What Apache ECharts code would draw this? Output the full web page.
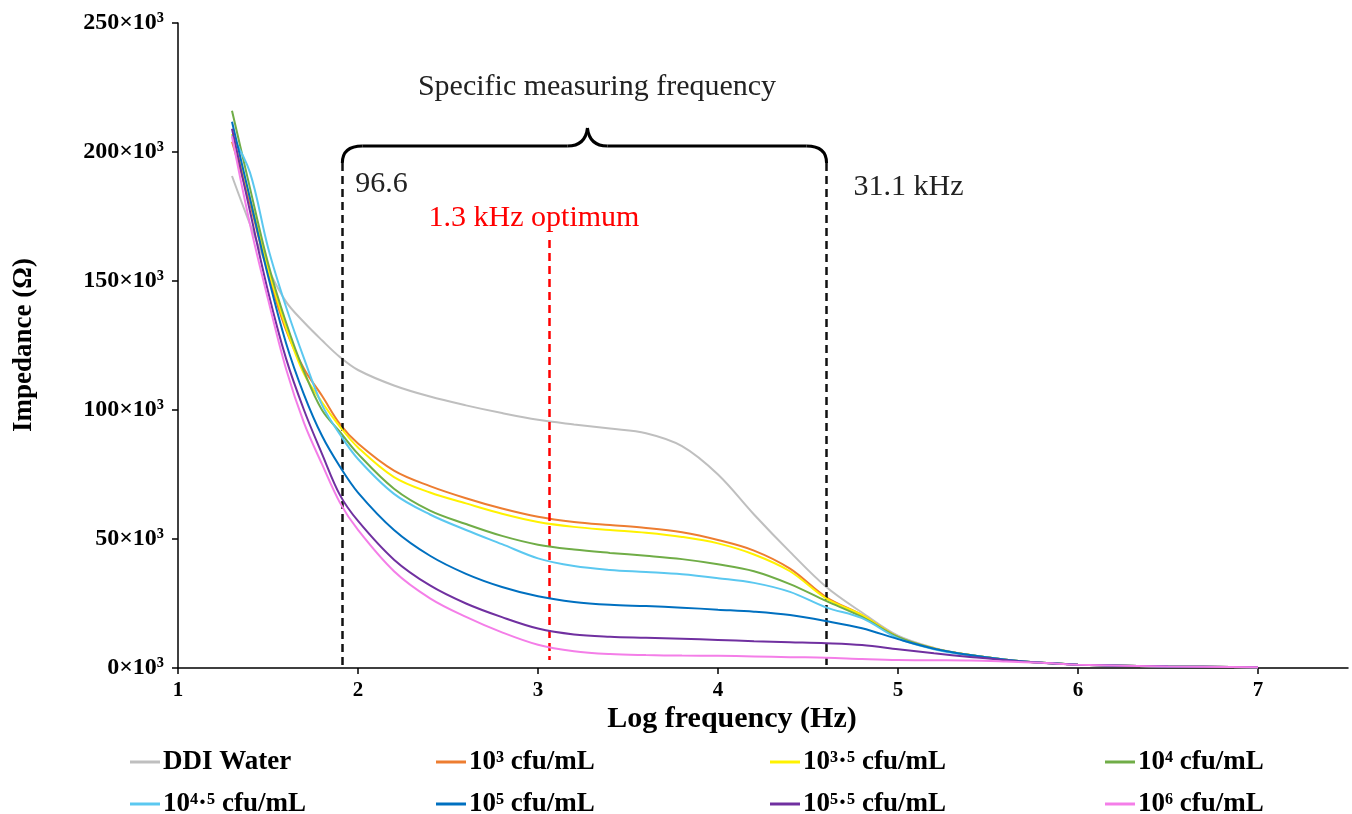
<!DOCTYPE html>
<html>
<head>
<meta charset="utf-8">
<script src="https://cdn.jsdelivr.net/npm/echarts@6/dist/echarts.min.js"></script>
<style>
  html, body { margin: 0; padding: 0; background: #fff; }
  #chart { width: 1352px; height: 814px; }
</style>
</head>
<body>
<div id="chart"></div>
<script>
// log10 frequency (Hz)
const logFreq = [1.3, 1.4, 1.5, 1.6, 1.7, 1.8, 1.9, 2.0, 2.2, 2.4, 2.6, 2.8, 3.0, 3.2, 3.4, 3.6, 3.8, 4.0, 4.2, 4.4, 4.6, 4.8, 5.0, 5.2, 5.4, 5.6, 5.8, 6.0, 6.5, 7.0];

// impedance, in 10^3 ohm
const ddiWater = [190.7, 172, 155, 142, 134, 127, 120.5, 115.5, 109.5, 105.2, 101.8, 98.8, 96.2, 94.4, 92.8, 91, 86, 75, 59.5, 45, 31.5, 21.5, 12.5, 7.8, 5, 3.2, 2, 1.3, 0.6, 0.3];
const c3 = [204, 180, 153, 131, 116, 105.5, 94.5, 87, 76.5, 70.5, 65.8, 61.8, 58.6, 56.6, 55.4, 54.3, 52.6, 49.6, 45.5, 38.5, 27.5, 20.5, 12, 7.6, 5, 3.2, 2, 1.3, 0.6, 0.3];
const c35 = [207, 182, 155, 132, 114, 103, 93.5, 85.5, 74, 68, 63.8, 59.8, 56.6, 54.7, 53.5, 52.4, 50.8, 48.3, 44, 37.5, 27, 20.5, 12, 7.6, 5, 3.2, 2, 1.3, 0.6, 0.3];
const c4 = [216, 186, 157, 134, 115, 100, 91.5, 83, 69.5, 61, 55.8, 51.2, 47.8, 45.9, 44.6, 43.5, 42.2, 40.2, 37.5, 32.5, 26, 19.8, 12, 7.5, 5, 3.2, 2, 1.3, 0.6, 0.3];
const c45 = [206.5, 192, 163, 140, 120, 102, 90.5, 81, 67.5, 59.5, 53.5, 48, 42.5, 39.5, 38, 37.2, 36.3, 34.8, 33, 29.5, 23.5, 19.3, 11.5, 7.3, 4.9, 3.2, 2, 1.3, 0.6, 0.3];
const c5 = [211.7, 182, 152, 126, 106, 90, 78, 68, 53.5, 43.5, 36.5, 31.4, 27.8, 25.6, 24.5, 24, 23.4, 22.6, 21.8, 20.5, 18.2, 15.4, 11.2, 7.5, 5, 3.2, 2, 1.3, 0.6, 0.3];
const c55 = [209, 177, 146, 120, 100, 83, 67, 57, 42, 32, 25, 19.7, 15.3, 13, 12.1, 11.7, 11.3, 10.9, 10.4, 10, 9.6, 8.9, 7.3, 5.7, 4.3, 3, 2, 1.3, 0.6, 0.3];
const c6 = [206, 172, 143, 116, 95, 79, 64, 53.5, 37.5, 27, 19.8, 13.8, 9, 6.5, 5.4, 5, 4.8, 4.7, 4.5, 4.2, 4, 3.5, 3.1, 3, 2.9, 2.5, 2, 1.3, 0.6, 0.3];

const seriesNames = ['DDI Water', '10³ cfu/mL', '10³·⁵ cfu/mL', '10⁴ cfu/mL', '10⁴·⁵ cfu/mL', '10⁵ cfu/mL', '10⁵·⁵ cfu/mL', '10⁶ cfu/mL'];
const seriesValues = [ddiWater, c3, c35, c4, c45, c5, c55, c6];
const seriesColors = ['#BFBFBF', '#ED7D31', '#FFF200', '#70AD47', '#5BC8F0', '#0070C0', '#7030A0', '#F47EE8'];

const yTicks = [0, 50, 100, 150, 200, 250];
const xTicks = [1, 2, 3, 4, 5, 6, 7];

// marked frequencies (log10 Hz)
const lowLimit = 1.913;
const highLimit = 4.603;
const optimum = 3.06;

const serif = '"Liberation Serif", "Times New Roman", serif';

const chart = echarts.init(document.getElementById('chart'));

// legend: 4 columns x 2 rows
const legendCols = [125, 431, 765, 1100];
const legendRows = [743, 785];
const legends = seriesNames.map((name, i) => ({
  data: [name],
  left: legendCols[i % 4],
  top: legendRows[Math.floor(i / 4)],
  icon: 'rect',
  itemWidth: 30,
  itemHeight: 3,
  itemGap: 0,
  textStyle: { fontFamily: serif, fontWeight: 'bold', fontSize: 27, lineHeight: 28, color: '#000', padding: [0, 0, 0, -2] }
}));

const series = seriesNames.map((name, i) => ({
  name: name,
  type: 'line',
  smooth: 0.35,
  showSymbol: false,
  symbol: 'none',
  z: 3 + i,
  lineStyle: { color: seriesColors[i], width: 2 },
  itemStyle: { color: seriesColors[i] },
  data: logFreq.map((x, j) => [x, seriesValues[i][j]])
}));

// dashed markers
series[0].markLine = {
  silent: true,
  symbol: 'none',
  label: { show: false },
  animation: false,
  data: [
    [{ coord: [lowLimit, 195.7], lineStyle: { color: '#111', width: 2.5, type: [8, 5] } }, { coord: [lowLimit, 1.2] }],
    [{ coord: [highLimit, 195.7], lineStyle: { color: '#111', width: 2.5, type: [8, 5] } }, { coord: [highLimit, 1.2] }],
    [{ coord: [optimum, 165.9], lineStyle: { color: '#FF0000', width: 2.5, type: [8, 5] } }, { coord: [optimum, 3.1] }]
  ]
};

chart.setOption({
  animation: false,
  backgroundColor: '#fff',
  grid: { left: 178, right: 4, top: 23, bottom: 146 },
  legend: legends,
  xAxis: {
    type: 'value',
    min: 1,
    max: 7.5,
    interval: 1,
    axisLine: { onZero: false, lineStyle: { color: '#000', width: 1.5 } },
    axisTick: { show: true, length: 6, lineStyle: { color: '#000', width: 1.5 } },
    axisLabel: {
      showMaxLabel: false,
      margin: 12,
      fontFamily: serif, fontWeight: 'bold', fontSize: 21, color: '#000',
      formatter: v => xTicks.includes(v) ? String(v) : ''
    },
    splitLine: { show: false }
  },
  yAxis: {
    type: 'value',
    min: 0,
    max: 250,
    interval: 50,
    axisLine: { show: true, lineStyle: { color: '#000', width: 1.5 } },
    axisTick: { show: true, length: 6, lineStyle: { color: '#000', width: 1.5 } },
    axisLabel: {
      margin: 14,
      fontFamily: serif, fontWeight: 'bold', fontSize: 24, color: '#000',
      formatter: v => yTicks.includes(v) ? v + '×10³' : ''
    },
    splitLine: { show: false }
  },
  series: series
});

// annotations placed from the axis scale
const px = x => chart.convertToPixel({ xAxisIndex: 0 }, x);
const xl = px(lowLimit);
const xr = px(highLimit);
const xm = (xl + xr) / 2 + 3;
const yEnd = 163, yTop = 146, yCusp = 128, r = 20;
const braceStyle = { fill: null, stroke: '#000', lineWidth: 3 };

chart.setOption({
  graphic: [
    { type: 'bezierCurve', shape: { x1: xl, y1: yEnd, cpx1: xl, cpy1: yTop, x2: xl + r, y2: yTop }, style: braceStyle },
    { type: 'line', shape: { x1: xl + r, y1: yTop, x2: xm - r, y2: yTop }, style: braceStyle },
    { type: 'bezierCurve', shape: { x1: xm - r, y1: yTop, cpx1: xm - 2, cpy1: yTop, x2: xm, y2: yCusp }, style: braceStyle },
    { type: 'bezierCurve', shape: { x1: xm, y1: yCusp, cpx1: xm + 2, cpy1: yTop, x2: xm + r, y2: yTop }, style: braceStyle },
    { type: 'line', shape: { x1: xm + r, y1: yTop, x2: xr - r, y2: yTop }, style: braceStyle },
    { type: 'bezierCurve', shape: { x1: xr - r, y1: yTop, cpx1: xr, cpy1: yTop, x2: xr, y2: yEnd }, style: braceStyle },
    {
      type: 'text', x: 597, y: 87,
      style: { text: 'Specific measuring frequency', fontFamily: serif, fontSize: 30, fill: '#222', align: 'center', verticalAlign: 'middle' }
    },
    {
      type: 'text', x: xl + 13, y: 184,
      style: { text: '96.6', fontFamily: serif, fontSize: 30, fill: '#222', align: 'left', verticalAlign: 'middle' }
    },
    {
      type: 'text', x: xr + 27, y: 187,
      style: { text: '31.1 kHz', fontFamily: serif, fontSize: 30, fill: '#222', align: 'left', verticalAlign: 'middle' }
    },
    {
      type: 'text', x: 534, y: 218,
      style: { text: '1.3 kHz optimum', fontFamily: serif, fontSize: 30, fill: '#FF0000', align: 'center', verticalAlign: 'middle' }
    },
    {
      type: 'text', x: 732, y: 719,
      style: { text: 'Log frequency (Hz)', fontFamily: serif, fontWeight: 'bold', fontSize: 30, fill: '#000', align: 'center', verticalAlign: 'middle' }
    },
    {
      type: 'text', x: 24, y: 345, rotation: Math.PI / 2,
      style: { text: 'Impedance (Ω)', fontFamily: serif, fontWeight: 'bold', fontSize: 27, fill: '#000', align: 'center', verticalAlign: 'middle' }
    }
  ]
});
</script>
</body>
</html>
